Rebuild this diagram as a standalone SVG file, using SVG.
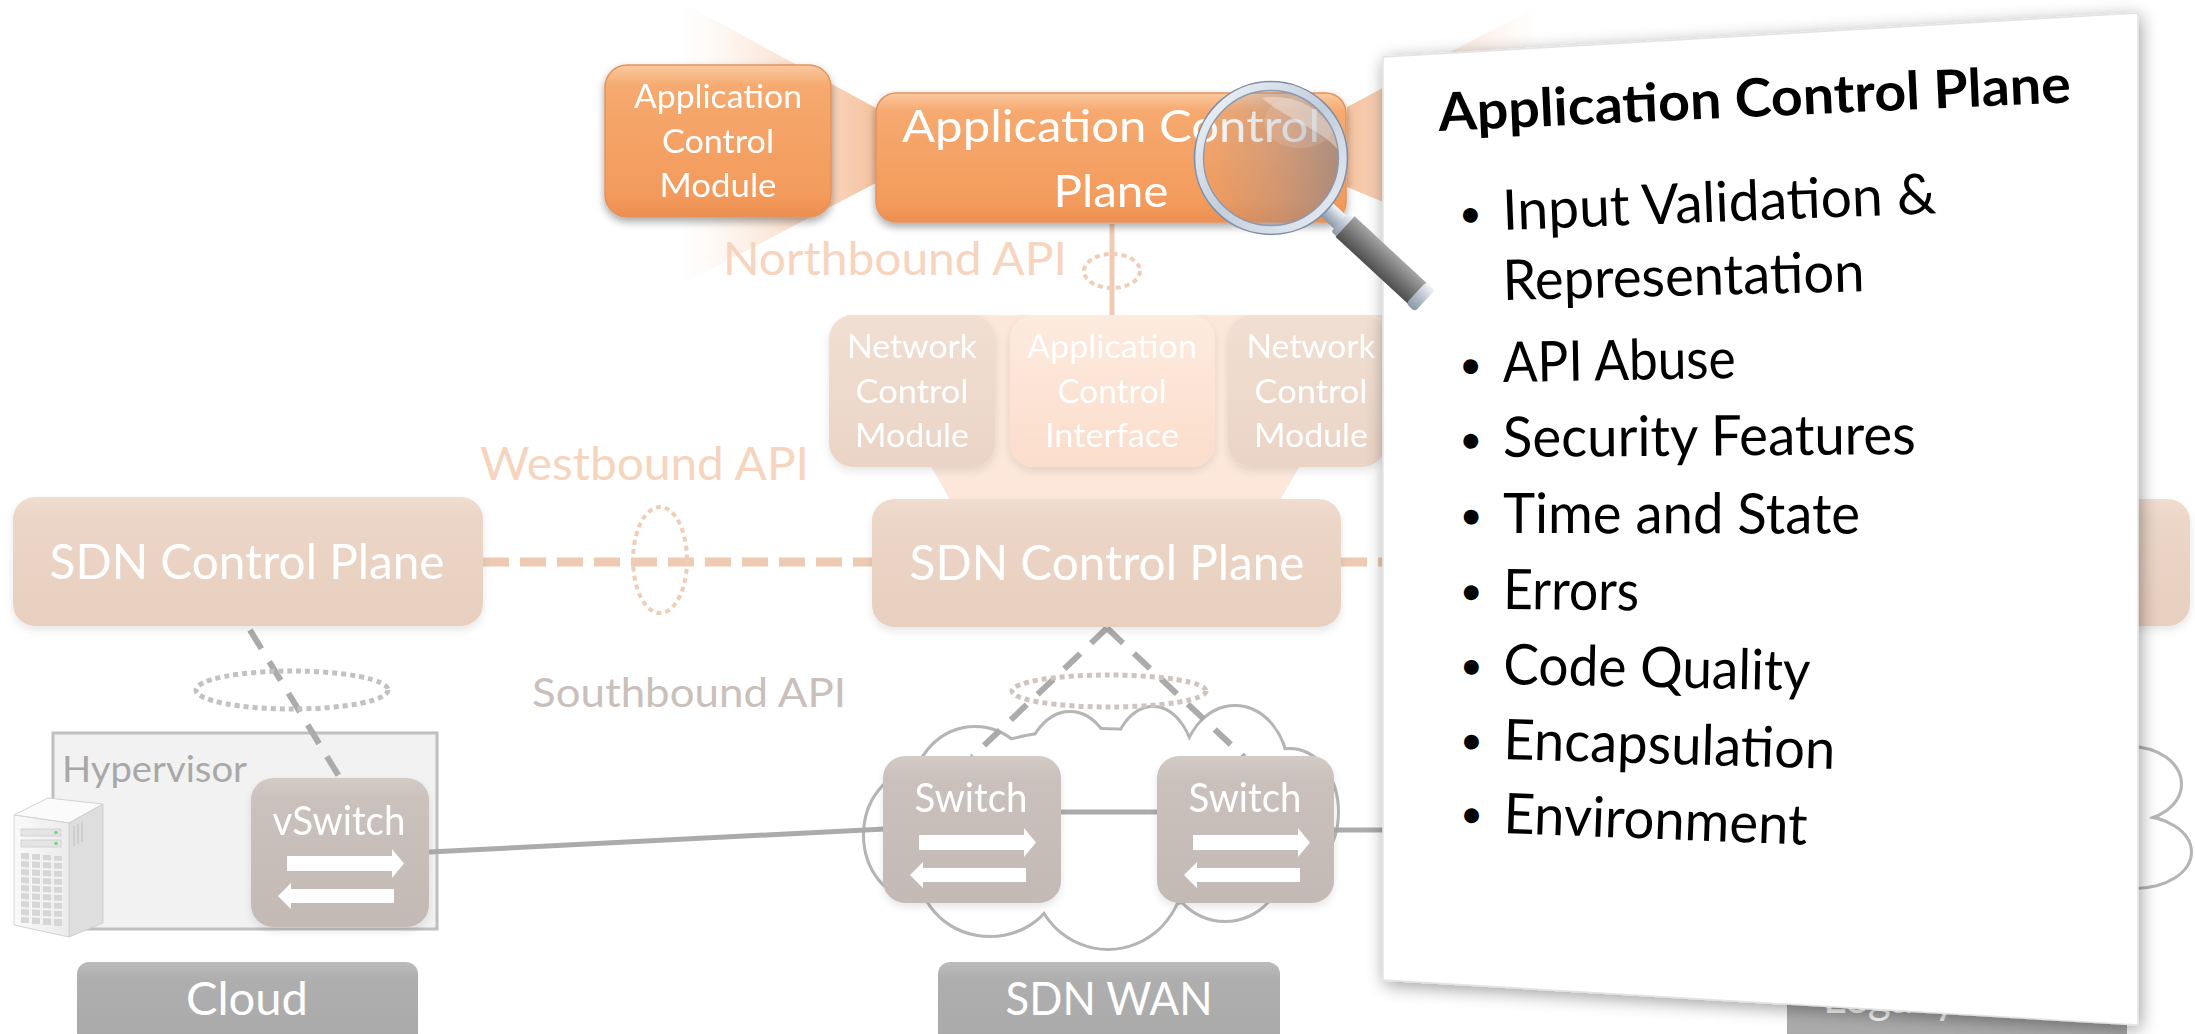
<svg xmlns="http://www.w3.org/2000/svg" width="2195" height="1034" viewBox="0 0 2195 1034">
  <defs>
    <style>
      text { font-family: Lato, "Open Sans", "Liberation Sans", sans-serif; }
      .wt { fill: #ffffff; text-anchor: middle; }
      .peach { fill: #F6D4BE; }
      .grayl { fill: #C9C0BB; }
      .hyp { fill: #A8A8A8; }
      .ink { fill: #000000; }
      .bold { font-weight: 700; }
      .bul { fill: #000000; font-size: 40px; text-anchor: middle; }
      .item { fill: #000000; font-size: 56px; }
      .link { stroke: #ABABAB; stroke-width: 5; fill: none; }
      .sb { stroke: #ABABAB; stroke-width: 6; fill: none; stroke-dasharray: 22 15; }
      .wb { stroke: #EECAB3; stroke-width: 9; fill: none; stroke-dasharray: 26 11; }
      .dotg { fill: none; stroke: #C2C2C2; stroke-width: 5; stroke-dasharray: 5 4; }
      .dotm { fill: none; stroke: #D0C5BE; stroke-width: 5; stroke-dasharray: 5 4; }
      .dotp { fill: none; stroke: #F0CDB6; stroke-width: 4; stroke-dasharray: 5 4; }
      .arrow { fill: #ffffff; }
    </style>

    <linearGradient id="gOrange" x1="0" y1="0" x2="0" y2="1">
      <stop offset="0" stop-color="#FACAA0"/>
      <stop offset="0.14" stop-color="#F6A96F"/>
      <stop offset="0.85" stop-color="#F39B5C"/>
      <stop offset="1" stop-color="#EC8F50"/>
    </linearGradient>
    <linearGradient id="gNcm" x1="0" y1="0" x2="0" y2="1">
      <stop offset="0" stop-color="#F1DFD3"/>
      <stop offset="1" stop-color="#EAD4C6"/>
    </linearGradient>
    <linearGradient id="gAci" x1="0" y1="0" x2="0" y2="1">
      <stop offset="0" stop-color="#FDEBDF"/>
      <stop offset="1" stop-color="#FBDDCB"/>
    </linearGradient>
    <linearGradient id="gSdn" x1="0" y1="0" x2="0" y2="1">
      <stop offset="0" stop-color="#F0DDD0"/>
      <stop offset="0.15" stop-color="#ECD6C7"/>
      <stop offset="1" stop-color="#E8CFBF"/>
    </linearGradient>
    <linearGradient id="gSwitch" x1="0" y1="0" x2="0" y2="1">
      <stop offset="0" stop-color="#D3CBC6"/>
      <stop offset="0.15" stop-color="#CAC1BC"/>
      <stop offset="1" stop-color="#C3BAB5"/>
    </linearGradient>
    <linearGradient id="gLabel" x1="0" y1="0" x2="0" y2="1">
      <stop offset="0" stop-color="#BBBBBB"/>
      <stop offset="0.2" stop-color="#AEAEAE"/>
      <stop offset="1" stop-color="#A9A9A9"/>
    </linearGradient>
    <linearGradient id="gConeL" gradientUnits="userSpaceOnUse" x1="876" y1="0" x2="680" y2="0">
      <stop offset="0" stop-color="#F4BC96" stop-opacity="0.9"/>
      <stop offset="0.4" stop-color="#F6C7A7" stop-opacity="0.6"/>
      <stop offset="1" stop-color="#FBE3D3" stop-opacity="0"/>
    </linearGradient>
    <linearGradient id="gConeR" gradientUnits="userSpaceOnUse" x1="1347" y1="0" x2="1540" y2="0">
      <stop offset="0" stop-color="#F4BC96" stop-opacity="0.9"/>
      <stop offset="0.4" stop-color="#F6C7A7" stop-opacity="0.6"/>
      <stop offset="1" stop-color="#FBE3D3" stop-opacity="0"/>
    </linearGradient>
    <linearGradient id="gLens" x1="0" y1="0" x2="1" y2="0">
      <stop offset="0" stop-color="#8A93A3" stop-opacity="0.02"/>
      <stop offset="0.55" stop-color="#85889A" stop-opacity="0.3"/>
      <stop offset="1" stop-color="#7C7E8C" stop-opacity="0.6"/>
    </linearGradient>
    <linearGradient id="gRing" x1="0" y1="0" x2="1" y2="1">
      <stop offset="0" stop-color="#F2F6FB"/>
      <stop offset="0.5" stop-color="#C3CEDC"/>
      <stop offset="1" stop-color="#E9EEF5"/>
    </linearGradient>
    <linearGradient id="gHandle" x1="0" y1="0" x2="0" y2="1">
      <stop offset="0" stop-color="#A6A6A6"/>
      <stop offset="0.45" stop-color="#7C7C7C"/>
      <stop offset="1" stop-color="#4E4E4E"/>
    </linearGradient>
    <linearGradient id="gSilver" x1="0" y1="0" x2="0" y2="1">
      <stop offset="0" stop-color="#F4F7FA"/>
      <stop offset="0.5" stop-color="#B9C3CF"/>
      <stop offset="1" stop-color="#8C97A5"/>
    </linearGradient>
    <linearGradient id="gServerFront" x1="0" y1="0" x2="1" y2="0">
      <stop offset="0" stop-color="#FAFAFA"/>
      <stop offset="1" stop-color="#EBEBEB"/>
    </linearGradient>

    <filter id="fShadow" x="-10%" y="-10%" width="120%" height="130%">
      <feGaussianBlur in="SourceAlpha" stdDeviation="4"/>
      <feOffset dy="4" result="b"/>
      <feComponentTransfer><feFuncA type="linear" slope="0.35"/></feComponentTransfer>
      <feMerge><feMergeNode/><feMergeNode in="SourceGraphic"/></feMerge>
    </filter>
    <filter id="fShadowSoft" x="-10%" y="-10%" width="120%" height="130%">
      <feGaussianBlur in="SourceAlpha" stdDeviation="4"/>
      <feOffset dy="4" result="b"/>
      <feComponentTransfer><feFuncA type="linear" slope="0.1"/></feComponentTransfer>
      <feMerge><feMergeNode/><feMergeNode in="SourceGraphic"/></feMerge>
    </filter>
    <filter id="fPanel" x="-10%" y="-10%" width="120%" height="120%">
      <feGaussianBlur in="SourceAlpha" stdDeviation="9"/>
      <feOffset dx="2" dy="4" result="b"/>
      <feComponentTransfer><feFuncA type="linear" slope="0.38"/></feComponentTransfer>
      <feMerge><feMergeNode/><feMergeNode in="SourceGraphic"/></feMerge>
    </filter>
    <clipPath id="lensClip"><circle cx="1271" cy="158" r="68"/></clipPath>

    <!-- forwarding arrows drawn inside every switch body -->
    <g id="fwdArrows">
      <path class="arrow" d="M36,78 H141 V71 L153,85.5 L141,100 V93 H36 Z"/>
      <path class="arrow" d="M143,111 H40 V105 L27,118 L40,131 V125 H143 Z"/>
    </g>

    <!-- lobes of the WAN cloud -->
    <g id="wanLobes">
      <ellipse cx="975" cy="790" rx="60" ry="62"/>
      <ellipse cx="1070" cy="778" rx="45" ry="65"/>
      <ellipse cx="1153" cy="775" rx="42" ry="67"/>
      <ellipse cx="1235" cy="772" rx="52" ry="65"/>
      <ellipse cx="1290" cy="812" rx="47" ry="62"/>
      <ellipse cx="1225" cy="855" rx="60" ry="65"/>
      <ellipse cx="1108" cy="870" rx="75" ry="78"/>
      <ellipse cx="990" cy="870" rx="70" ry="65"/>
      <ellipse cx="915" cy="835" rx="50" ry="62"/>
      <ellipse cx="1100" cy="820" rx="190" ry="90"/>
    </g>
    <!-- lobes of the legacy network cloud -->
    <g id="legacyLobes">
      <ellipse cx="2130" cy="784" rx="50" ry="36"/>
      <ellipse cx="2135" cy="852" rx="55" ry="35"/>
      <ellipse cx="2000" cy="820" rx="150" ry="80"/>
    </g>
  </defs>

  <rect width="2195" height="1034" fill="#ffffff"/>

  <!-- zoom cones behind the detail boxes -->
  <g id="zoom-cones">
    <polygon points="876,108 876,183 650,301 650,-15" fill="url(#gConeL)"/>
    <polygon points="1347,107 1560,-6 1560,276 1347,187" fill="url(#gConeR)"/>
    <polygon points="846,315 1388,315 1280,500 950,500" fill="#FCE7DA"/>
  </g>

  <!-- clouds -->
  <g id="wan-cloud">
    <use href="#wanLobes" fill="#ffffff" stroke="#B5B5B5" stroke-width="6"/>
    <use href="#wanLobes" fill="#ffffff" stroke="none"/>
  </g>
  <g id="legacy-cloud">
    <use href="#legacyLobes" fill="#ffffff" stroke="#B5B5B5" stroke-width="6"/>
    <use href="#legacyLobes" fill="#ffffff" stroke="none"/>
  </g>

  <!-- hypervisor frame -->
  <g id="hypervisor">
    <rect x="53" y="733" width="384" height="196" fill="#F2F2F2" stroke="#BFBFBF" stroke-width="3"/>
    <text x="62" y="782" class="hyp" font-size="37" textLength="185" lengthAdjust="spacingAndGlyphs">Hypervisor</text>
  </g>

  <!-- connectors -->
  <g id="connectors">
    <line x1="1112" y1="224" x2="1112" y2="315" stroke="#F0CBB3" stroke-width="5"/>
    <ellipse class="dotp" cx="1112" cy="271" rx="28" ry="17"/>

    <line class="wb" x1="483" y1="562" x2="872" y2="562"/>
    <line class="wb" x1="1341" y1="562" x2="1390" y2="562"/>
    <ellipse class="dotp" cx="660" cy="560" rx="27" ry="53"/>

    <line class="sb" x1="250" y1="630" x2="340" y2="778"/>
    <ellipse class="dotg" cx="292" cy="690" rx="96" ry="19"/>

    <line class="sb" x1="1107" y1="628" x2="972" y2="757"/>
    <line class="sb" x1="1107" y1="628" x2="1244" y2="757"/>
    <ellipse class="dotm" cx="1109" cy="691" rx="97" ry="16"/>

    <line class="link" x1="429" y1="852" x2="885" y2="829"/>
    <line class="link" x1="1061" y1="812" x2="1157" y2="812"/>
    <line class="link" x1="1333" y1="830" x2="1390" y2="830"/>
  </g>

  <!-- application layer -->
  <g id="app-control-module" filter="url(#fShadow)">
    <rect x="605" y="65" width="226" height="152" rx="22" fill="url(#gOrange)" stroke="#E3935D" stroke-width="1.5"/>
    <text class="wt" x="718" y="108" font-size="32" textLength="168" lengthAdjust="spacingAndGlyphs">Application</text>
    <text class="wt" x="718" y="153" font-size="32" textLength="112" lengthAdjust="spacingAndGlyphs">Control</text>
    <text class="wt" x="718" y="197" font-size="32" textLength="117" lengthAdjust="spacingAndGlyphs">Module</text>
  </g>
  <g id="app-control-plane" filter="url(#fShadow)">
    <rect x="876" y="93" width="470" height="129" rx="20" fill="url(#gOrange)" stroke="#E3935D" stroke-width="1.5"/>
    <text class="wt" x="1111" y="142" font-size="45" textLength="418" lengthAdjust="spacingAndGlyphs">Application Control</text>
    <text class="wt" x="1111" y="207" font-size="45" textLength="115" lengthAdjust="spacingAndGlyphs">Plane</text>
  </g>

  <text x="723" y="275" class="peach" font-size="46" textLength="344" lengthAdjust="spacingAndGlyphs">Northbound API</text>

  <!-- SDN control plane internals -->
  <g id="net-control-module-1" filter="url(#fShadowSoft)">
    <rect x="829" y="315" width="166" height="152" rx="24" fill="url(#gNcm)"/>
    <text class="wt" x="912" y="358" font-size="33" textLength="130" lengthAdjust="spacingAndGlyphs">Network</text>
    <text class="wt" x="912" y="403" font-size="33" textLength="113" lengthAdjust="spacingAndGlyphs">Control</text>
    <text class="wt" x="912" y="447" font-size="33" textLength="114" lengthAdjust="spacingAndGlyphs">Module</text>
  </g>
  <g id="app-control-interface" filter="url(#fShadowSoft)">
    <rect x="1010" y="315" width="205" height="152" rx="24" fill="url(#gAci)"/>
    <text class="wt" x="1112" y="358" font-size="33" textLength="170" lengthAdjust="spacingAndGlyphs">Application</text>
    <text class="wt" x="1112" y="403" font-size="33" textLength="109" lengthAdjust="spacingAndGlyphs">Control</text>
    <text class="wt" x="1112" y="447" font-size="33" textLength="134" lengthAdjust="spacingAndGlyphs">Interface</text>
  </g>
  <g id="net-control-module-2" filter="url(#fShadowSoft)">
    <rect x="1228" y="315" width="158" height="152" rx="24" fill="url(#gNcm)"/>
    <text class="wt" x="1311" y="358" font-size="33" textLength="129" lengthAdjust="spacingAndGlyphs">Network</text>
    <text class="wt" x="1311" y="403" font-size="33" textLength="113" lengthAdjust="spacingAndGlyphs">Control</text>
    <text class="wt" x="1311" y="447" font-size="33" textLength="114" lengthAdjust="spacingAndGlyphs">Module</text>
  </g>

  <text x="480" y="480" class="peach" font-size="46" textLength="329" lengthAdjust="spacingAndGlyphs">Westbound API</text>
  <text x="532" y="707" class="grayl" font-size="40" textLength="314" lengthAdjust="spacingAndGlyphs">Southbound API</text>

  <!-- SDN control planes -->
  <g id="sdn-control-left" filter="url(#fShadowSoft)">
    <rect x="13" y="497" width="470" height="129" rx="22" fill="url(#gSdn)"/>
    <text class="wt" x="247" y="579" font-size="49" textLength="395" lengthAdjust="spacingAndGlyphs">SDN Control Plane</text>
  </g>
  <g id="sdn-control-middle" filter="url(#fShadowSoft)">
    <rect x="872" y="499" width="469" height="128" rx="22" fill="url(#gSdn)"/>
    <text class="wt" x="1107" y="580" font-size="49" textLength="395" lengthAdjust="spacingAndGlyphs">SDN Control Plane</text>
  </g>
  <g id="sdn-control-right" filter="url(#fShadowSoft)">
    <rect x="1720" y="499" width="470" height="127" rx="22" fill="url(#gSdn)"/>
  </g>

  <!-- server -->
  <g id="server">
    <polygon points="14,815 48,798 103,804 69,823" fill="#FBFBFB" stroke="#D2D2D2" stroke-width="1"/>
    <polygon points="69,823 103,804 103,923 69,937" fill="#DEDEDE" stroke="#CFCFCF" stroke-width="1"/>
    <polygon points="14,815 69,823 69,937 14,925" fill="url(#gServerFront)" stroke="#D2D2D2" stroke-width="1"/>
    <g stroke="#C9C9C9" stroke-width="1.5">
      <line x1="74" y1="826" x2="74" y2="846"/>
      <line x1="78" y1="824" x2="78" y2="844"/>
      <line x1="82" y1="822" x2="82" y2="842"/>
    </g>
    <rect x="21" y="829" width="40" height="7" fill="#E4E4E4" stroke="#CCCCCC" stroke-width="0.8"/>
    <rect x="21" y="840" width="40" height="7" fill="#E4E4E4" stroke="#CCCCCC" stroke-width="0.8"/>
    <circle cx="56" cy="832.5" r="1.8" fill="#7BD37B"/>
    <circle cx="56" cy="843.5" r="1.8" fill="#7BD37B"/>
    <g fill="#D6D6D6">
      <rect x="21" y="853" width="8" height="70"/>
      <rect x="32" y="854" width="8" height="70"/>
      <rect x="43" y="855" width="8" height="70"/>
      <rect x="54" y="856" width="8" height="70"/>
    </g>
    <g stroke="#F4F4F4" stroke-width="2">
      <line x1="20" y1="860" x2="63" y2="862"/>
      <line x1="20" y1="868" x2="63" y2="870"/>
      <line x1="20" y1="876" x2="63" y2="878"/>
      <line x1="20" y1="884" x2="63" y2="886"/>
      <line x1="20" y1="892" x2="63" y2="894"/>
      <line x1="20" y1="900" x2="63" y2="902"/>
      <line x1="20" y1="908" x2="63" y2="910"/>
      <line x1="20" y1="916" x2="63" y2="918"/>
    </g>
  </g>

  <!-- switches -->
  <g id="vswitch" filter="url(#fShadowSoft)">
    <rect x="251" y="778" width="178" height="149" rx="22" fill="url(#gSwitch)"/>
    <text class="wt" x="339" y="835" font-size="40" textLength="133" lengthAdjust="spacingAndGlyphs">vSwitch</text>
    <use href="#fwdArrows" transform="translate(251,778)"/>
  </g>
  <g id="switch-1" filter="url(#fShadowSoft)">
    <rect x="883" y="756" width="178" height="147" rx="22" fill="url(#gSwitch)"/>
    <text class="wt" x="971" y="812" font-size="40" textLength="113" lengthAdjust="spacingAndGlyphs">Switch</text>
    <use href="#fwdArrows" transform="translate(883,757)"/>
  </g>
  <g id="switch-2" filter="url(#fShadowSoft)">
    <rect x="1157" y="756" width="177" height="147" rx="22" fill="url(#gSwitch)"/>
    <text class="wt" x="1245" y="812" font-size="40" textLength="113" lengthAdjust="spacingAndGlyphs">Switch</text>
    <use href="#fwdArrows" transform="translate(1157,757)"/>
  </g>

  <!-- domain labels -->
  <g id="label-cloud">
    <rect x="77" y="962" width="341" height="90" rx="12" fill="url(#gLabel)"/>
    <text class="wt" x="247" y="1015" font-size="46" textLength="122" lengthAdjust="spacingAndGlyphs">Cloud</text>
  </g>
  <g id="label-sdn-wan">
    <rect x="938" y="962" width="342" height="90" rx="12" fill="url(#gLabel)"/>
    <text class="wt" x="1109" y="1015" font-size="46" textLength="207" lengthAdjust="spacingAndGlyphs">SDN WAN</text>
  </g>
  <g id="label-legacy">
    <rect x="1787" y="962" width="340" height="90" rx="12" fill="url(#gLabel)"/>
    <text class="wt" x="1890" y="1013" font-size="46" textLength="134" lengthAdjust="spacingAndGlyphs">Legacy</text>
  </g>

  <!-- detail sheet -->
  <g id="detail-panel">
    <polygon points="1383,57 2138,13 2138,1025 1383,980" fill="#ffffff" stroke="#E3E3E3" stroke-width="1.5" filter="url(#fPanel)"/>
    <text x="1439" y="131" class="ink bold" font-size="53" transform="rotate(-2.6 1439 131)" textLength="633" lengthAdjust="spacingAndGlyphs">Application Control Plane</text>

    <g transform="rotate(-2.2 1503 230)">
      <text x="1471" y="226" class="bul">•</text>
      <text x="1503" y="230" class="item" textLength="434" lengthAdjust="spacingAndGlyphs">Input Validation &amp;</text>
    </g>
    <g transform="rotate(-1.4 1503 300)">
      <text x="1503" y="300" class="item" textLength="362" lengthAdjust="spacingAndGlyphs">Representation</text>
    </g>
    <g transform="rotate(-1 1503 382)">
      <text x="1471" y="378" class="bul">•</text>
      <text x="1503" y="382" class="item" textLength="233" lengthAdjust="spacingAndGlyphs">API Abuse</text>
    </g>
    <g transform="rotate(-0.4 1503 457)">
      <text x="1471" y="453" class="bul">•</text>
      <text x="1503" y="457" class="item" textLength="413" lengthAdjust="spacingAndGlyphs">Security Features</text>
    </g>
    <g transform="rotate(0.1 1503 533)">
      <text x="1471" y="529" class="bul">•</text>
      <text x="1503" y="533" class="item" textLength="357" lengthAdjust="spacingAndGlyphs">Time and State</text>
    </g>
    <g transform="rotate(0.6 1503 609)">
      <text x="1471" y="605" class="bul">•</text>
      <text x="1503" y="609" class="item" textLength="136" lengthAdjust="spacingAndGlyphs">Errors</text>
    </g>
    <g transform="rotate(1.2 1503 684)">
      <text x="1471" y="680" class="bul">•</text>
      <text x="1503" y="684" class="item" textLength="307" lengthAdjust="spacingAndGlyphs">Code Quality</text>
    </g>
    <g transform="rotate(1.7 1503 759)">
      <text x="1471" y="755" class="bul">•</text>
      <text x="1503" y="759" class="item" textLength="332" lengthAdjust="spacingAndGlyphs">Encapsulation</text>
    </g>
    <g transform="rotate(2.2 1503 833)">
      <text x="1471" y="829" class="bul">•</text>
      <text x="1503" y="833" class="item" textLength="304" lengthAdjust="spacingAndGlyphs">Environment</text>
    </g>
  </g>

  <!-- magnifying glass over the application control plane, its handle resting on the sheet -->
  <g id="magnifier">
    <circle cx="1271" cy="158" r="68" fill="url(#gLens)"/>
    <g clip-path="url(#lensClip)">
      <path d="M1262,98 C1300,92 1335,115 1338,150 C1320,128 1290,122 1262,98 Z" fill="#ffffff" opacity="0.35"/>
      <ellipse cx="1300" cy="122" rx="36" ry="26" fill="#ffffff" opacity="0.12"/>
    </g>
    <g transform="translate(1271,158) rotate(42.8)">
      <rect x="74" y="-9" width="24" height="18" fill="url(#gSilver)"/>
      <rect x="94" y="-13" width="9" height="26" rx="3" fill="url(#gSilver)"/>
      <rect x="101" y="-14" width="100" height="28" fill="url(#gHandle)"/>
      <rect x="198" y="-15" width="12" height="30" rx="4" fill="url(#gSilver)"/>
    </g>
    <circle cx="1271" cy="158" r="72" fill="none" stroke="url(#gRing)" stroke-width="9"/>
    <circle cx="1271" cy="158" r="76.5" fill="none" stroke="#7F8FA6" stroke-width="1.6"/>
    <circle cx="1271" cy="158" r="67.5" fill="none" stroke="#8A99AE" stroke-width="1.3"/>
  </g>
</svg>
